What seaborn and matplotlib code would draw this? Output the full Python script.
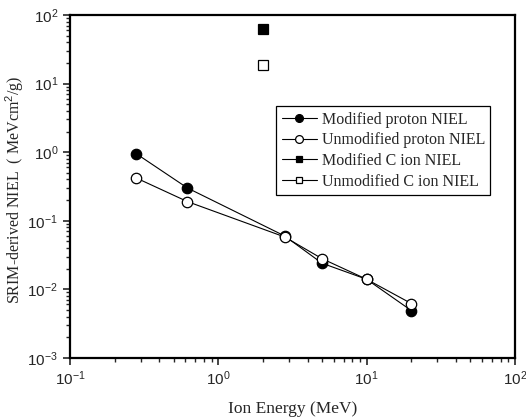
import numpy as np
import pandas as pd
import matplotlib
matplotlib.use("Agg")
import matplotlib.pyplot as plt
import seaborn as sns

# values
proton_energy = [0.28, 0.62, 2.8, 5.0, 10.0, 20.0]
proton_mod = [0.95, 0.30, 0.060, 0.024, 0.014, 0.0049]
proton_unmod = [0.42, 0.19, 0.058, 0.028, 0.014, 0.0062]
c_energy = [2.0]
c_mod = [62.0]
c_unmod = [18.5]

sns.set_style("ticks")
plt.rcParams["font.family"] = ["Liberation Serif", "DejaVu Serif"]
plt.rcParams["mathtext.fontset"] = "custom"
plt.rcParams["mathtext.rm"] = "Liberation Sans"
plt.rcParams["mathtext.it"] = "Liberation Sans"

fig = plt.figure(figsize=(5.26, 4.19), dpi=100)
ax = fig.add_axes([0.133, 0.146, 0.846, 0.818])

series = [
    ("Modified proton NIEL", proton_energy, proton_mod, "o", "black"),
    ("Unmodified proton NIEL", proton_energy, proton_unmod, "o", "white"),
    ("Modified C ion NIEL", c_energy, c_mod, "s", "black"),
    ("Unmodified C ion NIEL", c_energy, c_unmod, "s", "white"),
]
for name, xs, ys, mk, fc in series:
    df = pd.DataFrame({"energy": xs, "niel": ys})
    ms = 7.5 if mk == "o" else 6.5
    sns.lineplot(data=df, x="energy", y="niel", ax=ax, color="black", lw=0.8,
                 marker=mk, markersize=ms, markerfacecolor=fc,
                 markeredgecolor="black", markeredgewidth=0.9, label=name)

ax.set_xscale("log")
ax.set_yscale("log")
ax.set_xlim(0.1, 100)
ax.set_ylim(1e-3, 100)

ax.set_xticks([0.1, 1, 10, 100])
ax.set_xticklabels([r"$10^{-1}$", r"$10^{0}$", r"$10^{1}$", r"$10^{2}$"])
ax.set_yticks([1e-3, 1e-2, 1e-1, 1, 10, 100])
ax.set_yticklabels([r"$10^{-3}$", r"$10^{-2}$", r"$10^{-1}$", r"$10^{0}$",
                    r"$10^{1}$", r"$10^{2}$"])
ax.tick_params(which="major", direction="out", length=5, width=1.2, labelsize=11)
ax.tick_params(which="minor", direction="out", length=3, width=1.0)
for s in ax.spines.values():
    s.set_linewidth(1.6)
    s.set_color("black")

ax.set_xlabel("Ion Energy (MeV)", fontsize=12.5, labelpad=9)
ax.set_ylabel(r"SRIM-derived NIEL  ( MeVcm$^2$/g)", fontsize=11.5)
ax.yaxis.set_label_coords(-0.098, 0.49)

leg = ax.legend(loc="upper left", bbox_to_anchor=(0.463, 0.735), fontsize=11.5,
                frameon=True, fancybox=False, edgecolor="black", framealpha=1,
                handlelength=2.2, handletextpad=0.3, borderpad=0.35,
                labelspacing=0.3, borderaxespad=0, markerscale=0.75)
leg.get_frame().set_linewidth(0.9)

fig.savefig("out.png", dpi=100)
